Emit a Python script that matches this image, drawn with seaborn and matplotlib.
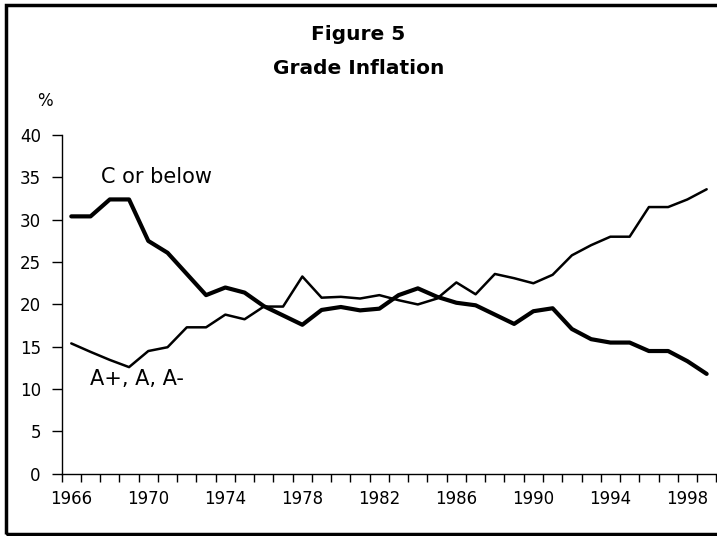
import matplotlib
matplotlib.use("Agg")
import matplotlib.pyplot as plt
import seaborn as sns
import pandas as pd
import numpy as np
from matplotlib.patches import Rectangle

years = list(range(1966, 2000))
c_or_below = [30.4, 30.4, 32.4, 32.4, 27.5, 26.1, 23.6, 21.1, 22.0, 21.4,
              19.8, 18.7, 17.6, 19.35, 19.7, 19.3, 19.5, 21.1, 21.9, 20.9,
              20.2, 19.9, 18.8, 17.7, 19.2, 19.55, 17.1, 15.9, 15.5, 15.5,
              14.5, 14.5, 13.3, 11.8]
a_grades = [15.4, 14.4, 13.45, 12.6, 14.5, 14.95, 17.3, 17.3, 18.8, 18.25,
            19.75, 19.75, 23.3, 20.8, 20.9, 20.7, 21.1, 20.5, 20.0, 20.7,
            22.6, 21.2, 23.6, 23.1, 22.5, 23.5, 25.8, 27.0, 28.0, 28.0,
            31.5, 31.5, 32.4, 33.6]
tick_years = [1966, 1970, 1974, 1978, 1982, 1986, 1990, 1994, 1998]
y_ticks = [0, 5, 10, 15, 20, 25, 30, 35, 40]

df = pd.DataFrame({"idx": np.arange(len(years)), "year": years,
                   "C or below": c_or_below, "A+, A, A-": a_grades})

sns.set_style("white")
plt.rcParams['font.family'] = ['DejaVu Sans']
plt.rcParams['text.color'] = 'black'
plt.rcParams['xtick.color'] = 'black'
plt.rcParams['ytick.color'] = 'black'
plt.rcParams['xtick.labelcolor'] = 'black'
plt.rcParams['ytick.labelcolor'] = 'black'

fig = plt.figure(figsize=(7.17, 5.36), dpi=100)
ax = fig.add_axes([0.086, 0.116, 0.913, 0.632])

sns.lineplot(data=df, x="idx", y="C or below", ax=ax, color="black", linewidth=3.0)
sns.lineplot(data=df, x="idx", y="A+, A, A-", ax=ax, color="black", linewidth=1.8)

ax.set_xlim(-0.5, len(years) - 0.5)
ax.set_ylim(0, 40)
ax.set_xlabel("")
ax.set_ylabel("")

major_pos = [years.index(y) for y in tick_years]
ax.set_xticks(major_pos)
ax.set_xticklabels([str(y) for y in tick_years], fontsize=12, color="black")
ax.set_xticks(np.arange(-0.5, len(years), 1.0), minor=True)
ax.tick_params(axis="x", which="major", length=0, pad=12)
ax.tick_params(axis="x", which="minor", length=6, width=1, direction="out", color="black", bottom=True)
ax.set_yticks(y_ticks)
ax.set_yticklabels([str(v) for v in y_ticks], fontsize=12, color="black")
ax.tick_params(axis="y", length=7, width=1, direction="out", color="black", left=True, pad=8)

for s in ["top", "right"]:
    ax.spines[s].set_visible(False)
for s in ["left", "bottom"]:
    ax.spines[s].set_color("black")
    ax.spines[s].set_linewidth(1.0)

ax.text(1.55, 35.0, "C or below", fontsize=15, ha="left", va="center", color="black")
ax.text(0.95, 11.2, "A+, A, A-", fontsize=15, ha="left", va="center", color="black")

fig.text(0.5, 1 - 34 / 536, "Figure 5", fontsize=14.5, fontweight="bold", ha="center", va="center", color="black")
fig.text(0.5, 1 - 68 / 536, "Grade Inflation", fontsize=14.5, fontweight="bold", ha="center", va="center", color="black")
fig.text(45 / 717, 1 - 101 / 536, "%", fontsize=12, ha="center", va="center", color="black")

fig.patches.append(Rectangle((6 / 717, 2 / 536), 1.2, 1 - 7 / 536, transform=fig.transFigure,
                             fill=False, edgecolor="black", linewidth=2.5))

fig.savefig("out.png", dpi=100)
